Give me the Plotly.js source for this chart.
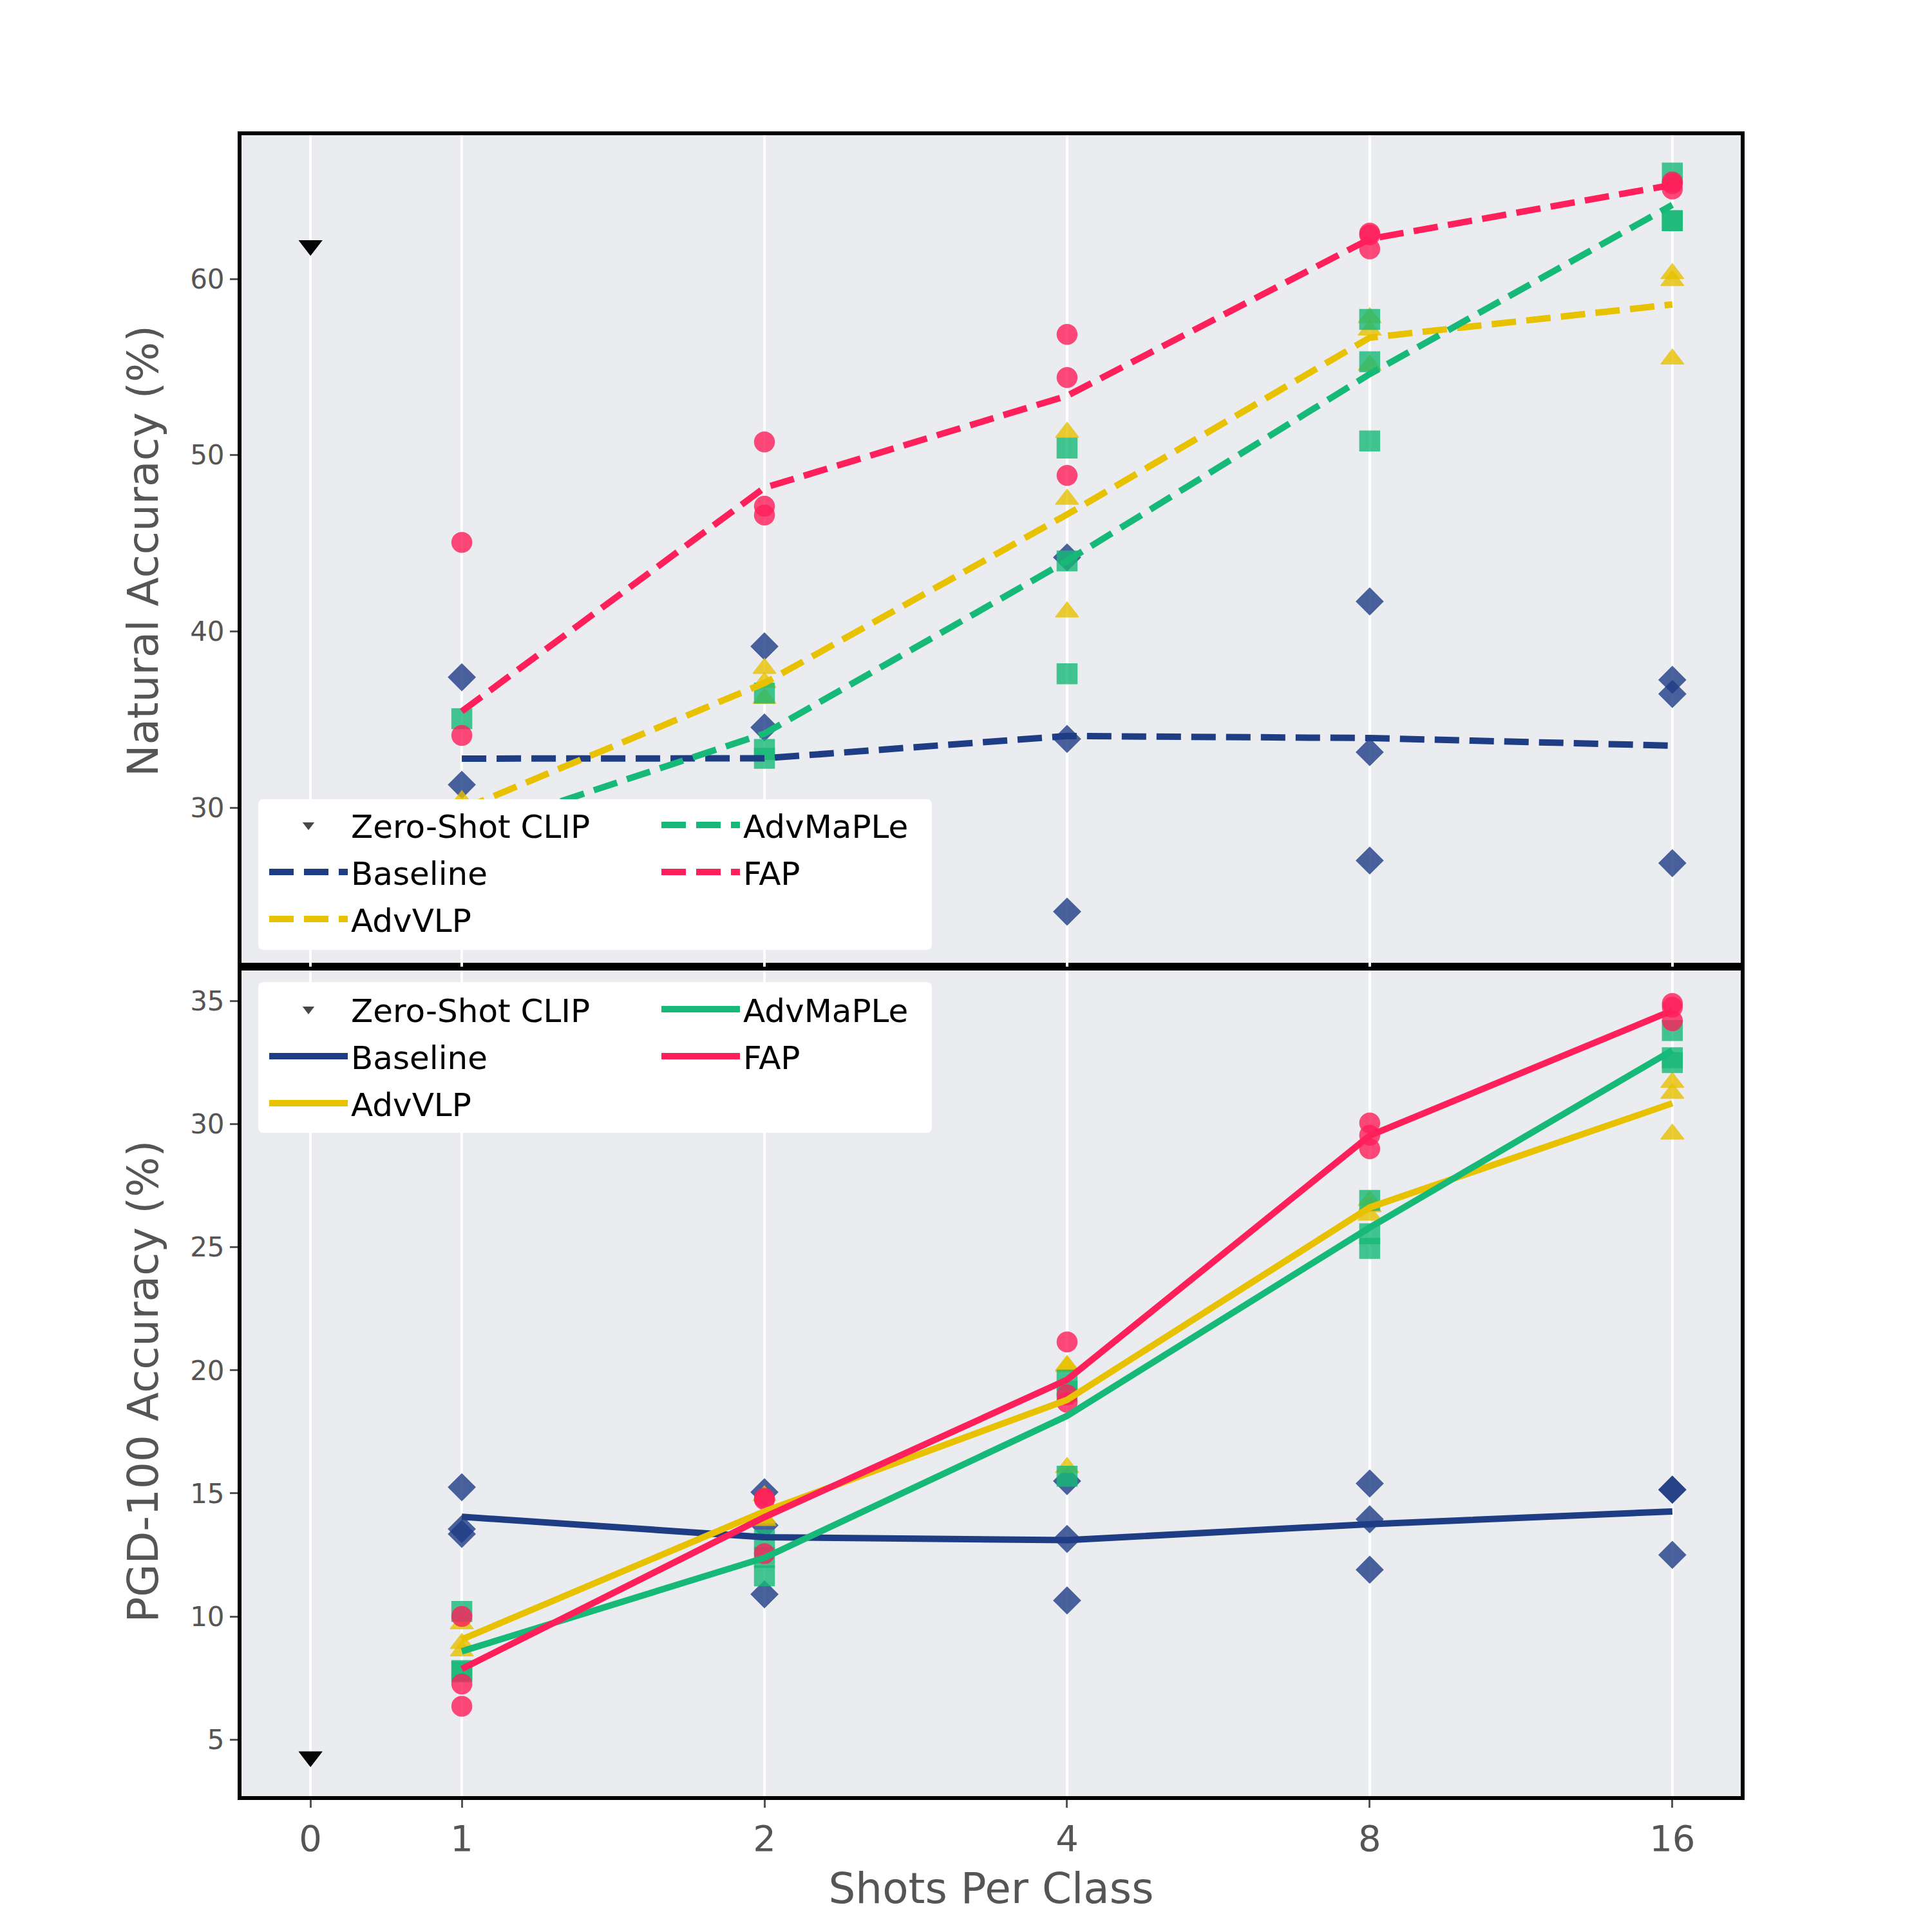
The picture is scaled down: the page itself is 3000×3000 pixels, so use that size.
<!DOCTYPE html>
<html>
<head>
<meta charset="utf-8">
<script src="https://cdn.plot.ly/plotly-3.0.1.min.js"></script>
<style>html,body{margin:0;padding:0;background:#fff;}#chart{width:3000px;height:3000px;}</style>
</head>
<body>
<div id="chart"></div>
<script>
// ---------------- data (3 seeds per shot setting) ----------------
const shots = [1, 2, 4, 8, 16];
const zeroShotShots = [0, 0, 0];
const tickShots = [0, 1, 2, 4, 8, 16];
const methodNames = ['Baseline', 'AdvVLP', 'AdvMaPLe', 'FAP'];

const zeroShotNatural = [61.9, 61.9, 61.9];
const zeroShotPGD = [4.3, 4.3, 4.3];

const natBaseline = [[37.4, 31.3, 29.65], [39.15, 34.55, 24.7], [44.2, 33.9, 24.1], [41.7, 33.15, 27.0], [37.25, 36.45, 26.85]];
const natAdvVLP   = [[30.4, 30.0, 29.3], [37.9, 37.1, 36.2], [51.3, 47.5, 41.1], [57.8, 57.1, 55.1], [60.3, 59.9, 55.45]];
const natAdvMaPLe = [[35.05, 25.7, 24.75], [36.5, 33.3, 32.8], [50.4, 44.0, 37.6], [57.7, 55.3, 50.8], [66.0, 63.3, 63.3]];
const natFAP      = [[45.05, 34.1, 27.25], [50.75, 47.1, 46.6], [56.85, 54.4, 48.85], [62.6, 62.5, 61.7], [65.5, 65.4, 65.1]];

const pgdBaseline = [[15.25, 13.55, 13.35], [15.05, 13.7, 10.9], [15.5, 13.15, 10.65], [15.4, 13.95, 11.9], [15.15, 15.15, 12.5]];
const pgdAdvVLP   = [[9.7, 8.9, 8.6], [14.9, 14.0, 13.9], [20.2, 20.15, 16.05], [26.9, 26.65, 26.3], [31.7, 31.25, 29.6]];
const pgdAdvMaPLe = [[10.2, 7.8, 7.75], [13.1, 12.4, 11.65], [19.6, 19.15, 15.7], [26.9, 25.55, 24.95], [33.8, 32.7, 32.5]];
const pgdFAP      = [[10.0, 7.25, 6.35], [14.8, 14.75, 12.55], [21.15, 19.0, 18.7], [30.05, 29.55, 29.0], [34.9, 34.75, 34.2]];

// ---------------- styles ----------------
const colors = {Baseline: '#1f3d85', AdvVLP: '#e8c100', AdvMaPLe: '#17b978', FAP: '#ff1f5b'};
const symbols = {Baseline: 'diamond', AdvVLP: 'triangle-up', AdvMaPLe: 'square', FAP: 'circle'};
const msizes = {Baseline: 32, AdvVLP: 31, AdvMaPLe: 31, FAP: 31};
const FONT = 'DejaVu Sans, Verdana, sans-serif';

// log2 position of shot count; zero-shot placed half a step left of 1 shot
function shotPos(s) { return s === 0 ? -0.5 : Math.log2(s); }
function mean(a) { return a.reduce((p, c) => p + c, 0) / a.length; }

const W = 3000, H = 3000;
const M = {l: 375, r: 297, t: 210, b: 211};
const PW = W - M.l - M.r, PH = H - M.t - M.b;
const divY = 1501;
const splitFrac = (H - M.b - divY) / PH;
function px2x(p) { return (p - M.l) / PW; }
function px2y(p) { return (H - M.b - p) / PH; }

const panels = [
  {key: 'nat', xa: 'x2', ya: 'y2', dash: '38px,16px', zero: zeroShotNatural,
   data: {Baseline: natBaseline, AdvVLP: natAdvVLP, AdvMaPLe: natAdvMaPLe, FAP: natFAP},
   leg1: 'legend', leg2: 'legend2'},
  {key: 'pgd', xa: 'x', ya: 'y', dash: 'solid', zero: zeroShotPGD,
   data: {Baseline: pgdBaseline, AdvVLP: pgdAdvVLP, AdvMaPLe: pgdAdvMaPLe, FAP: pgdFAP},
   leg1: 'legend3', leg2: 'legend4'}
];

const traces = [];
panels.forEach(pn => {
  // scatter of individual seeds
  methodNames.forEach(m => {
    const xs = [], ys = [];
    pn.data[m].forEach((seeds, i) => seeds.forEach(v => { xs.push(shotPos(shots[i])); ys.push(v); }));
    traces.push({
      type: 'scatter', mode: 'markers', x: xs, y: ys, xaxis: pn.xa, yaxis: pn.ya,
      showlegend: false, hoverinfo: 'skip',
      marker: {symbol: symbols[m], size: msizes[m], color: colors[m], opacity: 0.8,
               line: {color: colors[m], width: 1.5}}
    });
  });
  // zero-shot CLIP
  traces.push({
    type: 'scatter', mode: 'markers', name: 'Zero-Shot CLIP',
    x: zeroShotShots.map(shotPos), y: pn.zero, xaxis: pn.xa, yaxis: pn.ya,
    legend: pn.leg1, legendgroup: pn.key + '-zs', legendrank: 1,
    marker: {symbol: 'triangle-down', size: 32, color: 'rgba(0,0,0,0.72)', line: {width: 0}}
  });
  // mean lines
  methodNames.forEach((m, k) => {
    const leg = (m === 'AdvMaPLe' || m === 'FAP') ? pn.leg2 : pn.leg1;
    traces.push({
      type: 'scatter', mode: 'lines', name: m,
      x: shots.map(shotPos), y: pn.data[m].map(mean), xaxis: pn.xa, yaxis: pn.ya,
      legend: leg, legendgroup: pn.key + '-' + m, legendrank: k + 2,
      line: {color: colors[m], width: 10, dash: pn.dash}
    });
  });
});

const tickFont = {family: FONT, size: 42, color: '#555555'};
const titleFont = {family: FONT, size: 66, color: '#555555'};
const xRange = [-0.728, 4.226];

const xCommon = {
  range: xRange, tickmode: 'array', tickvals: tickShots.map(shotPos), ticktext: tickShots.map(String),
  showgrid: true, gridcolor: '#ffffff', gridwidth: 3.5, zeroline: false,
  showline: true, linecolor: '#000000', linewidth: 6, mirror: true
};
const yCommon = {
  showgrid: false, zeroline: false, showline: true, linecolor: '#000000', linewidth: 6, mirror: true,
  ticks: 'outside', ticklen: 12, tickwidth: 3, tickcolor: '#555555', tickfont: tickFont
};

function legendAt(xpx, ypx) {
  return {x: px2x(xpx), y: px2y(ypx), xanchor: 'left', yanchor: 'top', bgcolor: 'rgba(0,0,0,0)',
          borderwidth: 0, orientation: 'v', itemwidth: 122, tracegroupgap: 5,
          font: {family: FONT, size: 50, color: '#000000'}};
}

function roundedBox(x0p, y0p, x1p, y1p, r) {
  const X = p => px2x(p), Y = p => px2y(p);
  const d = 'M' + X(x0p + r) + ',' + Y(y0p) +
    ' L' + X(x1p - r) + ',' + Y(y0p) + ' Q' + X(x1p) + ',' + Y(y0p) + ' ' + X(x1p) + ',' + Y(y0p + r) +
    ' L' + X(x1p) + ',' + Y(y1p - r) + ' Q' + X(x1p) + ',' + Y(y1p) + ' ' + X(x1p - r) + ',' + Y(y1p) +
    ' L' + X(x0p + r) + ',' + Y(y1p) + ' Q' + X(x0p) + ',' + Y(y1p) + ' ' + X(x0p) + ',' + Y(y1p - r) +
    ' L' + X(x0p) + ',' + Y(y0p + r) + ' Q' + X(x0p) + ',' + Y(y0p) + ' ' + X(x0p + r) + ',' + Y(y0p) + ' Z';
  return {type: 'path', xref: 'paper', yref: 'paper', path: d, fillcolor: '#ffffff',
          line: {width: 0}, layer: 'above'};
}

const layout = {
  width: W, height: H, margin: M,
  paper_bgcolor: '#ffffff', plot_bgcolor: '#ebecef',
  font: {family: FONT, color: '#555555'},
  showlegend: true,
  xaxis: Object.assign({}, xCommon, {anchor: 'y', ticks: 'outside', ticklen: 12, tickwidth: 3,
    tickcolor: '#555555', tickfont: {family: FONT, size: 56, color: '#555555'},
    title: {text: 'Shots Per Class', font: titleFont, standoff: 25}}),
  xaxis2: Object.assign({}, xCommon, {anchor: 'y2', matches: 'x', ticks: '', showticklabels: false}),
  yaxis: Object.assign({}, yCommon, {domain: [0, splitFrac], range: [2.70, 36.40], dtick: 5, tick0: 0,
    title: {text: 'PGD-100 Accuracy (%)', font: titleFont, standoff: 30}}),
  yaxis2: Object.assign({}, yCommon, {domain: [splitFrac, 1], range: [20.98, 68.15], dtick: 10, tick0: 0,
    title: {text: 'Natural Accuracy (%)', font: titleFont, standoff: 30}}),
  legend: legendAt(413, 1242),
  legend2: legendAt(1022, 1242),
  legend3: legendAt(413, 1528),
  legend4: legendAt(1022, 1528),
  shapes: [roundedBox(401, 1241, 1447, 1475, 9), roundedBox(401, 1525, 1447, 1759, 9)]
};

Plotly.newPlot('chart', traces, layout, {displayModeBar: false, staticPlot: true});
</script>
</body>
</html>
